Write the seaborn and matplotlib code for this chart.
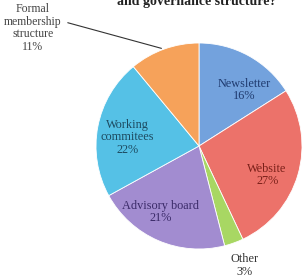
import numpy as np
import seaborn as sns
import matplotlib.pyplot as plt

categories = ['Newsletter', 'Website', 'Other', 'Advisory board',
              'Working\ncommitees', 'Formal\nmembership\nstructure']
shares = [16, 27, 3, 21, 22, 11]
colors = ['#73a2dd', '#ec726a', '#a8d763', '#a28cd0', '#55c1e6', '#f6a25a']
text_colors = ['#1f3a6e', '#7a2019', '#333333', '#3a2a68', '#1d4a60', '#444444']

sns.set_theme(style='white')
plt.rcParams['font.family'] = ['Liberation Serif', 'DejaVu Serif']

fig = plt.figure(figsize=(3.06, 2.79), dpi=100)
ax = fig.add_axes([0, 0, 1, 1])

cx, cy, R = 199, 133, 103
wedges, _ = ax.pie(shares, colors=colors, startangle=90, counterclock=False,
                   center=(cx, cy), radius=R, frame=True,
                   wedgeprops=dict(edgecolor='white', linewidth=0.6))
ax.set_xlim(0, 306)
ax.set_ylim(0, 279)
ax.axis('off')

# label radial fraction and angle tweak per slice
rfrac = [0.70, 0.72, 1.24, 0.74, 0.70, None]
dang = [-10, -7, 1, -7, 4, 0]
for w, lab, s, rf, da, tc in zip(wedges, categories, shares, rfrac, dang, text_colors):
    if rf is None:
        continue
    mid = np.deg2rad((w.theta1 + w.theta2) / 2 + da)
    x = cx + rf * R * np.cos(mid)
    y = cy + rf * R * np.sin(mid)
    ax.text(x, y, f'{lab}\n{s}%', ha='center', va='center', fontsize=8.8,
            color=tc, linespacing=1.05)

# formal membership callout
w = wedges[5]
mid = np.deg2rad((w.theta1 + w.theta2) / 2)
ax.annotate(f'{categories[5]}\n{shares[5]}%',
            xy=(cx + R * np.cos(mid), cy + R * np.sin(mid)),
            xytext=(33, 251), ha='center', va='center', fontsize=8.5,
            color=text_colors[5], linespacing=1.05,
            arrowprops=dict(arrowstyle='-', color='#333333', lw=0.8,
                            relpos=(1.0, 0.64)))

ax.text(197, 274, 'and governance structure?', ha='center', va='baseline',
        fontsize=10, fontweight='bold', color='#222222')

fig.savefig('out.png', dpi=100)
